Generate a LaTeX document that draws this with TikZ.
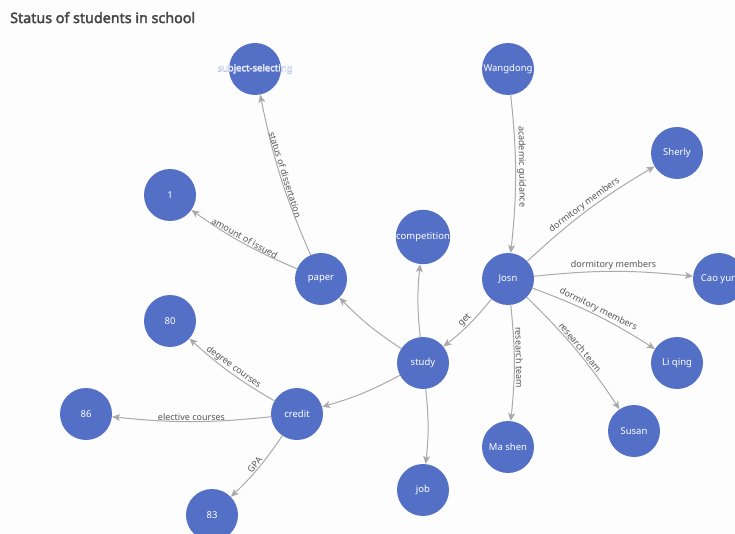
\documentclass[tikz,border=0pt]{standalone}
\usepackage{fontspec}
\setmainfont{Noto Sans}[AutoFakeBold=2.5]
\newfontfamily\halofont{Noto Sans}[FakeBold=5]
\usetikzlibrary{arrows.meta}
\definecolor{nodeblue}{HTML}{5470C6}
\definecolor{linkgray}{HTML}{AAAAAA}
\definecolor{labelgray}{HTML}{555555}
\definecolor{titlegray}{HTML}{464646}
\definecolor{paper}{HTML}{FDFDFD}
\newcommand{\halotext}[1]{\makebox[0pt]{\halofont\color{nodeblue!45!white}#1}\makebox[0pt]{\color{white!92!nodeblue}#1}}
\tikzset{
  entity/.style={circle, fill=nodeblue, minimum size=52pt, inner sep=0pt,
    text=white, font=\fontsize{9.5}{10}\selectfont},
  link/.style={->, draw=linkgray, line width=1pt, bend left=6},
  linklabel/.style={sloped, above, inner sep=1pt, text=labelgray,
    font=\fontsize{9}{10}\selectfont}
}
\begin{document}
\begin{tikzpicture}[x=1pt, y=-1pt, >={Stealth[length=8pt,width=7pt,inset=2pt]}]
\path[use as bounding box, fill=paper] (0,0) rectangle (735,534);
\clip (0,0) rectangle (735,534);
\node[anchor=base west, inner sep=0pt, text=titlegray,
  font=\bfseries\fontsize{14.3}{16}\selectfont] (title) at (10,23) {Status of students in school};
\node[entity] (subject) at (255,69) {\halotext{subject-selecting}};
\node[entity] (wangdong) at (508,69) {Wangdong};
\node[entity] (sherly) at (677,153) {Sherly};
\node[entity] (one) at (170,195) {1};
\node[entity] (competition) at (423,237) {competition};
\node[entity] (paper) at (321,279) {paper};
\node[entity] (josn) at (508,279) {Josn};
\node[entity] (caoyun) at (719,279) {Cao yun};
\node[entity] (eighty) at (170,321) {80};
\node[entity] (study) at (423,363) {study};
\node[entity] (liqing) at (677,363) {Li qing};
\node[entity] (eightysix) at (86,414) {86};
\node[entity] (credit) at (297,414) {credit};
\node[entity] (susan) at (634,431) {Susan};
\node[entity] (mashen) at (508,447) {Ma shen};
\node[entity] (job) at (423,490) {job};
\node[entity] (eightythree) at (212,515) {83};
\draw[link] (paper) to node[linklabel] {status of dissertation} (subject);
\draw[link] (paper) to node[linklabel] {amount of issued} (one);
\draw[link] (study) to (paper);
\draw[link] (study) to (competition);
\draw[link] (study) to (credit);
\draw[link] (study) to (job);
\draw[link] (josn) to node[linklabel] {get} (study);
\draw[link] (wangdong) to node[linklabel, pos=0.45] {academic guidance} (josn);
\draw[link] (josn) to node[linklabel] {dormitory members} (sherly);
\draw[link] (josn) to node[linklabel] {dormitory members} (caoyun);
\draw[link] (josn) to node[linklabel] {dormitory members} (liqing);
\draw[link] (josn) to node[linklabel, pos=0.45] {research team} (mashen);
\draw[link] (josn) to node[linklabel] {research team} (susan);
\draw[link] (credit) to node[linklabel] {degree courses} (eighty);
\draw[link] (credit) to node[linklabel] {elective courses} (eightysix);
\draw[link] (credit) to node[linklabel] {GPA} (eightythree);
\end{tikzpicture}
\end{document}
